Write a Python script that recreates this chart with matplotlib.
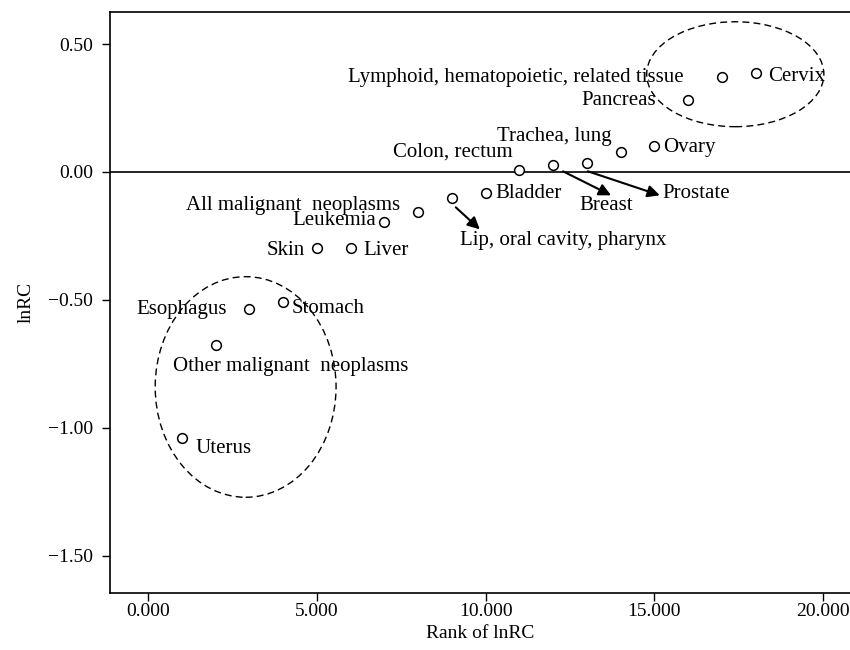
import matplotlib
matplotlib.use("Agg")
import matplotlib.pyplot as plt
from matplotlib.patches import Ellipse
from matplotlib.transforms import offset_copy

plt.rcParams['font.family'] = ['Liberation Serif', 'DejaVu Serif']

categories = ["Uterus", "Other malignant  neoplasms", "Esophagus", "Stomach", "Skin", "Liver",
              "Leukemia", "All malignant  neoplasms", "Lip, oral cavity, pharynx", "Bladder",
              "Colon, rectum", "Breast", "Prostate", "Trachea, lung", "Ovary", "Pancreas",
              "Lymphoid, hematopoietic, related tissue", "Cervix"]
ranks = [1, 2, 3, 4, 5, 6, 7, 8, 9, 10, 11, 12, 13, 14, 15, 16, 17, 18]
lnrc = [-1.040, -0.676, -0.536, -0.508, -0.298, -0.298, -0.194, -0.155, -0.103, -0.083,
        0.008, 0.026, 0.034, 0.077, 0.103, 0.280, 0.370, 0.386]

xticks = [0, 5, 10, 15, 20]
xticklabels = ["0.000", "5.000", "10.000", "15.000", "20.000"]
yticks = [0.5, 0.0, -0.5, -1.0, -1.5]
yticklabels = ["0.50", "0.00", "\u22120.50", "\u22121.00", "\u22121.50"]

# label placement: (dx px, dy px, ha)
label_style = {
    "Uterus": (14, -10, "left"),
    "Other malignant  neoplasms": (-43, -22, "left"),
    "Esophagus": (-22, 0, "right"),
    "Stomach": (9, -7, "left"),
    "Skin": (-12, -2, "right"),
    "Liver": (13, -2, "left"),
    "Leukemia": (-8, 1, "right"),
    "All malignant  neoplasms": (-18, 6, "right"),
    "Lip, oral cavity, pharynx": (8, -42, "left"),
    "Bladder": (10, 0, "left"),
    "Colon, rectum": (-7, 18, "right"),
    "Breast": (53, -40, "center"),
    "Prostate": (76, -30, "left"),
    "Trachea, lung": (-9, 16, "right"),
    "Ovary": (9, -2, "left"),
    "Pancreas": (-32, 0, "right"),
    "Lymphoid, hematopoietic, related tissue": (-38, 0, "right"),
    "Cervix": (13, -3, "left"),
}
# arrows: (start dx, dy, tip dx, dy) in pixels from the point
arrow_style = {
    "Lip, oral cavity, pharynx": (4, -9, 28, -31),
    "Breast": (10, -6, 58, -30),
    "Prostate": (1, -8, 73, -32),
}

fig = plt.figure(figsize=(8.5, 6.5), dpi=100)
ax = fig.add_axes([0.1294, 0.0877, 0.8706, 0.8938])
ax.set_xlim(-1.13, 20.8)
ax.set_ylim(-1.645, 0.625)

ax.axhline(0, color='black', lw=1.2)
ax.plot(ranks, lnrc, linestyle='none', marker='o', ms=7, mfc='white', mec='black', mew=1.1, zorder=3)

for name, x, y in zip(categories, ranks, lnrc):
    dx, dy, ha = label_style[name]
    ax.annotate(name, (x, y), xytext=(dx, dy), textcoords='offset pixels',
                ha=ha, va='center', fontsize=15)
    if name in arrow_style:
        sx, sy, tx, ty = arrow_style[name]
        ax.annotate('', xy=(x, y), xycoords=offset_copy(ax.transData, fig=fig, x=tx, y=ty, units='dots'),
                    xytext=(x, y), textcoords=offset_copy(ax.transData, fig=fig, x=sx, y=sy, units='dots'),
                    arrowprops=dict(arrowstyle='-|>', color='black', lw=1.5,
                                    mutation_scale=18, shrinkA=0, shrinkB=0))

ax.add_patch(Ellipse((17.4, 0.382), 5.25, 0.41, fill=False, ls=(0, (5, 3)), lw=1.0, ec='black'))
ax.add_patch(Ellipse((2.89, -0.840), 5.36, 0.862, fill=False, ls=(0, (5, 3)), lw=1.0, ec='black'))

ax.set_xticks(xticks)
ax.set_xticklabels(xticklabels)
ax.set_yticks(yticks)
ax.set_yticklabels(yticklabels)
ax.tick_params(direction='out', length=6, width=1, labelsize=14)
ax.tick_params(axis='x', pad=1)
ax.tick_params(axis='y', pad=6)
ax.spines['right'].set_visible(False)
for s in ['left', 'top', 'bottom']:
    ax.spines[s].set_linewidth(1.2)

ax.set_xlabel("Rank of lnRC", fontsize=14, labelpad=4)
ax.set_ylabel("lnRC", fontsize=14, labelpad=10)

fig.savefig("out.png", dpi=100)
